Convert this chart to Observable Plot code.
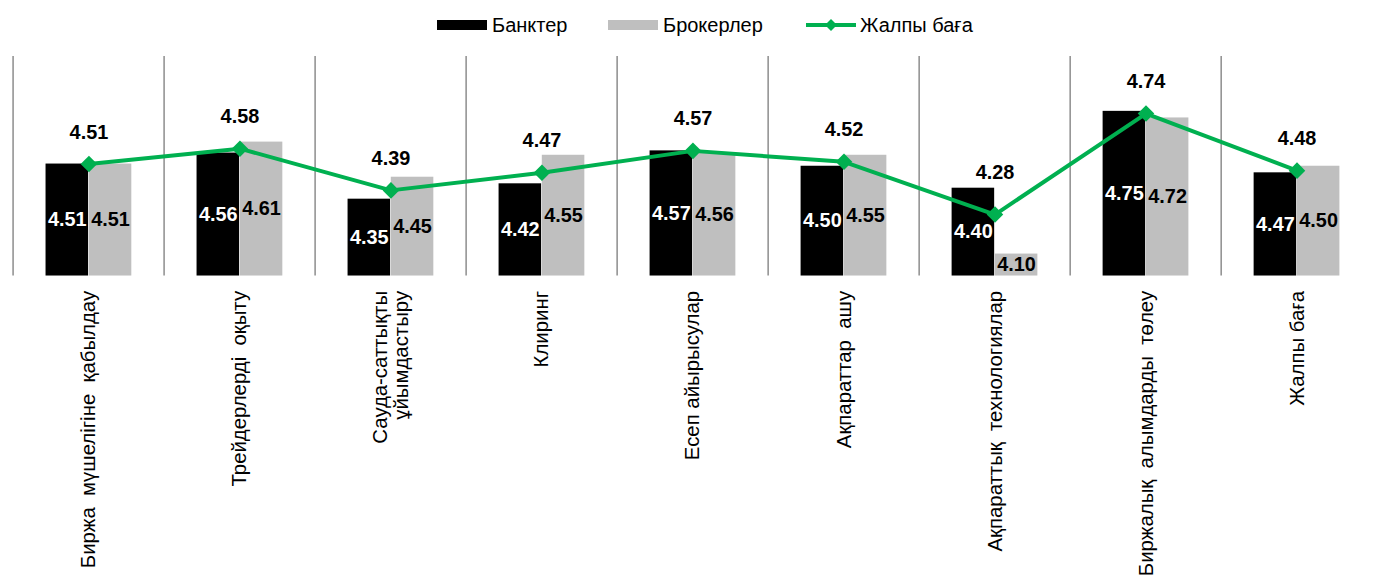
<!DOCTYPE html>
<html><head><meta charset="utf-8">
<script src="https://cdn.jsdelivr.net/npm/d3@7"></script>
<script src="https://cdn.jsdelivr.net/npm/@observablehq/plot@0.6"></script>
<style>
html,body{margin:0;padding:0;background:#fff;overflow:hidden;width:1375px;height:576px;}
body{font-family:"Liberation Sans",Arial,sans-serif;}
#legend{position:relative;height:50px;}
.item{position:absolute;top:14px;display:flex;align-items:center;font-size:20px;color:#000;height:22px;}
.sw{display:inline-block;width:50px;height:10px;margin-right:5px;}
#chart svg text{white-space:pre;}
</style></head><body>
<div id="legend"></div>
<div id="chart"></div>
<script>
const categories = [
  "Биржа  мүшелігіне  қабылдау",
  "Трейдерлерді  оқыту",
  "Сауда-саттықты\nұйымдастыру",
  "Клиринг",
  "Есеп айырысулар",
  "Ақпараттар  ашу",
  "Ақпараттық  технологиялар",
  "Биржалық  алымдарды  төлеу",
  "Жалпы баға"
];
const seriesNames = ["Банктер", "Брокерлер", "Жалпы баға"];
const banks   = [4.51, 4.56, 4.35, 4.42, 4.57, 4.50, 4.40, 4.75, 4.47];
const brokers = [4.51, 4.61, 4.45, 4.55, 4.56, 4.55, 4.10, 4.72, 4.50];
const overall = [4.51, 4.58, 4.39, 4.47, 4.57, 4.52, 4.28, 4.74, 4.48];

const colors = {bank: "#000000", broker: "#BFBFBF", overall: "#00B050"};

// legend
const legend = document.getElementById("legend");
const legendLeft = [437, 608, 806];
seriesNames.forEach((name, i) => {
  const it = document.createElement("div");
  it.className = "item";
  it.style.left = legendLeft[i] + "px";
  if (i < 2) {
    const sw = document.createElement("span");
    sw.className = "sw";
    sw.style.background = i === 0 ? colors.bank : colors.broker;
    it.appendChild(sw);
  } else {
    const ns = "http://www.w3.org/2000/svg";
    const s = document.createElementNS(ns, "svg");
    s.setAttribute("width", 50); s.setAttribute("height", 16);
    s.style.marginRight = "4px";
    const l = document.createElementNS(ns, "line");
    l.setAttribute("x1", 0); l.setAttribute("x2", 50); l.setAttribute("y1", 8); l.setAttribute("y2", 8);
    l.setAttribute("stroke", colors.overall); l.setAttribute("stroke-width", 4);
    const p = document.createElementNS(ns, "path");
    p.setAttribute("d", "M25,2L31,8L25,14L19,8Z"); p.setAttribute("fill", colors.overall);
    s.appendChild(l); s.appendChild(p);
    it.appendChild(s);
  }
  const t = document.createElement("span");
  t.textContent = name;
  it.appendChild(t);
  legend.appendChild(it);
});

const W = 1384, H = 526, mL = 10, mR = 0, mT = 6, mB = 299;
const bw = (W - mL - mR) / categories.length;
const barW = 43.5;

const data = categories.map((c, i) => ({cat: c, idx: i, bank: banks[i], broker: brokers[i], overall: overall[i]}));
const base = 4;
const raisedLabel = 6; // the "Ақпараттық технологиялар" total label sits higher, clear of the bar

const chart = Plot.plot({
  width: W, height: H,
  marginLeft: mL, marginRight: mR, marginTop: mT, marginBottom: mB,
  style: {fontFamily: '"Liberation Sans", Arial, sans-serif', background: "#fff", overflow: "visible"},
  x: {type: "band", domain: categories, padding: 0, axis: null},
  y: {domain: [4, 5], axis: null},
  marks: [
    Plot.ruleX(categories, {x: d => d, dx: -bw / 2, y1: 4, y2: 5, stroke: "#8c8c8c", strokeWidth: 1.5}),
    Plot.barY(data, {x: "cat", y1: base, y2: "bank", fill: colors.bank, insetLeft: bw / 2 - barW, insetRight: bw / 2}),
    Plot.barY(data, {x: "cat", y1: base, y2: "broker", fill: colors.broker, insetLeft: bw / 2, insetRight: bw / 2 - barW}),
    Plot.text(data, {x: "cat", y: d => (base + d.bank) / 2, dx: -barW / 2, text: d => d.bank.toFixed(2), fill: "#fff", fontSize: 20, fontWeight: "bold"}),
    Plot.text(data, {x: "cat", y: d => (base + d.broker) / 2, dx: barW / 2, text: d => d.broker.toFixed(2), fill: "#000", fontSize: 20, fontWeight: "bold"}),
    Plot.line(data, {x: "cat", y: "overall", stroke: colors.overall, strokeWidth: 4}),
    Plot.dot(data, {x: "cat", y: "overall", symbol: "diamond2", r: 7.5, fill: colors.overall, stroke: "none"}),
    Plot.text(data.filter(d => d.idx !== raisedLabel), {x: "cat", y: "overall", dy: -32, text: d => d.overall.toFixed(2), fill: "#000", fontSize: 20, fontWeight: "bold"}),
    Plot.text(data.filter(d => d.idx === raisedLabel), {x: "cat", y: "overall", dy: -42, text: d => d.overall.toFixed(2), fill: "#000", fontSize: 20, fontWeight: "bold"}),
    Plot.axisX({tickSize: 0, tickPadding: 15, tickRotate: -90, fontSize: 20.5, fill: "#000", label: null})
  ]
});
document.getElementById("chart").appendChild(chart);
</script>
</body></html>
